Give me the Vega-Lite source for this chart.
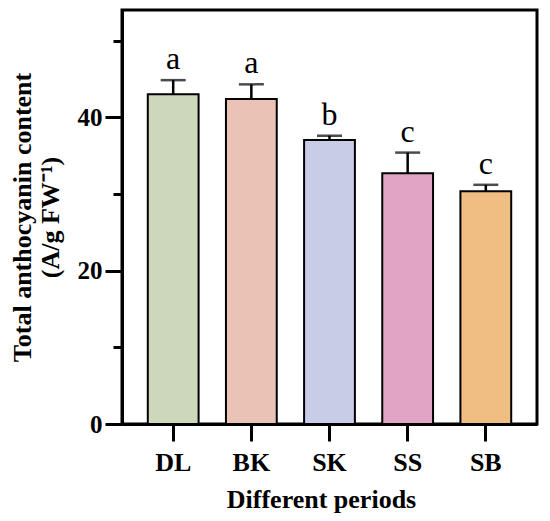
{
  "$schema": "https://vega.github.io/schema/vega-lite/v6.json",
  "autosize": "none",
  "width": 415,
  "height": 414,
  "padding": {"left": 122, "top": 10, "right": 13, "bottom": 97},
  "background": "white",
  "config": {
    "font": "Liberation Serif",
    "view": {"stroke": "black", "strokeWidth": 3},
    "axis": {
      "domainColor": "black",
      "domainWidth": 3,
      "tickColor": "black",
      "tickWidth": 3,
      "labelColor": "black",
      "titleColor": "black",
      "grid": false
    }
  },
  "data": {
    "values": [
      {"period": "DL", "mean": 43.0, "upper": 44.85, "letter": "a"},
      {"period": "BK", "mean": 42.4, "upper": 44.3, "letter": "a"},
      {"period": "SK", "mean": 37.05, "upper": 37.6, "letter": "b"},
      {"period": "SS", "mean": 32.7, "upper": 35.4, "letter": "c"},
      {"period": "SB", "mean": 30.35, "upper": 31.2, "letter": "c"}
    ]
  },
  "encoding": {
    "x": {
      "field": "period",
      "type": "nominal",
      "sort": null,
      "scale": {"paddingInner": 0.35, "paddingOuter": 0.33},
      "axis": {
        "title": "Different periods",
        "labelAngle": 0,
        "labelFontSize": 26,
        "labelFontWeight": "bold",
        "labelPadding": 8,
        "tickSize": 17,
        "titleFontSize": 26,
        "titleFontWeight": "bold",
        "titleBaseline": "alphabetic",
        "titleX": 199,
        "titleY": 83
      }
    }
  },
  "layer": [
    {
      "mark": {"type": "bar", "stroke": "black", "strokeWidth": 2},
      "encoding": {
        "y": {
          "field": "mean",
          "type": "quantitative",
          "scale": {"domain": [0, 54], "nice": false},
          "axis": {
            "orient": "left",
            "values": [0, 20, 40],
            "tickSize": 17,
            "labelFontSize": 25,
            "labelFontWeight": "bold",
            "labelPadding": 3,
            "title": "Total anthocyanin content",
            "titleFontSize": 26,
            "titleFontWeight": "bold",
            "titleAngle": -90,
            "titleBaseline": "middle",
            "titleAlign": "center",
            "titleX": -100,
            "titleY": 207
          }
        },
        "fill": {
          "field": "period",
          "type": "nominal",
          "sort": null,
          "legend": null,
          "scale": {
            "domain": ["DL", "BK", "SK", "SS", "SB"],
            "range": ["#cdd7bc", "#eac3b6", "#c9cce6", "#e2a4c5", "#f0be82"]
          }
        }
      }
    },
    {
      "mark": {"type": "rule", "color": "black", "strokeWidth": 2.5},
      "encoding": {
        "y": {
          "field": "mean",
          "type": "quantitative",
          "axis": {
            "orient": "left",
            "values": [10, 30, 50],
            "tickSize": 9,
            "labels": false,
            "domain": false,
            "title": "(A/g FW⁻¹)",
            "titleFontSize": 26,
            "titleFontWeight": "bold",
            "titleAngle": -90,
            "titleBaseline": "middle",
            "titleAlign": "center",
            "titleX": -72,
            "titleY": 207
          }
        },
        "y2": {"field": "upper"}
      }
    },
    {
      "mark": {"type": "tick", "color": "black", "size": 25, "thickness": 2.5},
      "encoding": {
        "y": {"field": "upper", "type": "quantitative", "axis": null}
      }
    },
    {
      "mark": {"type": "text", "fontSize": 32, "baseline": "alphabetic", "dy": -11, "color": "black"},
      "encoding": {
        "y": {"field": "upper", "type": "quantitative", "axis": null},
        "text": {"field": "letter"}
      }
    }
  ],
  "resolve": {"axis": {"y": "independent"}}
}
